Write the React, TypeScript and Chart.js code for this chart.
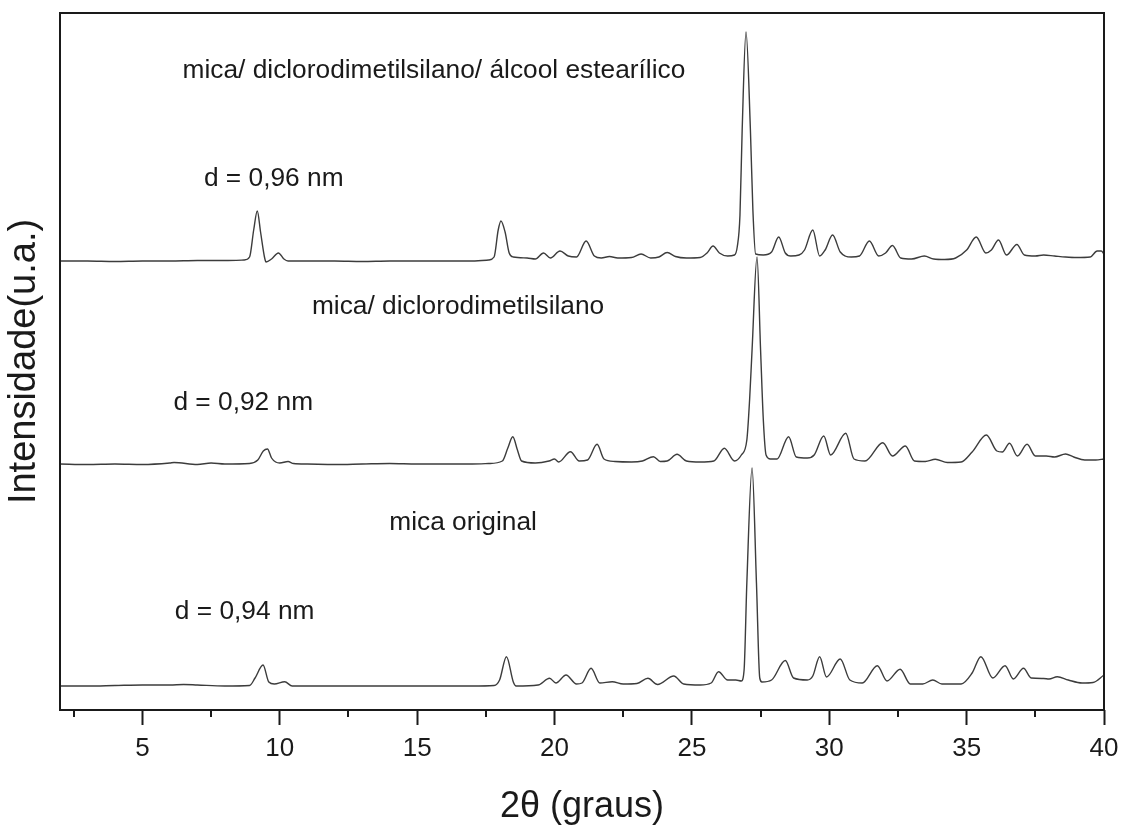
import { useEffect, useRef } from "react";
import { Chart, registerables } from "chart.js";

Chart.register(...registerables);

// 2θ (graus) and intensity (u.a., traces already stacked with their offsets)
const topTheta = [
  2.0, 3.0, 4.0, 5.0, 6.0, 7.0, 8.0, 8.7, 8.9, 9.05, 9.18, 9.3, 9.45, 9.5, 9.7, 9.95, 10.15, 10.3, 11, 12, 13, 14, 15, 16, 17,
  17.6, 17.8, 17.95, 18.05, 18.2, 18.35, 18.5, 19.0, 19.3, 19.6, 19.85, 20.2, 20.5, 20.8, 21.15, 21.45, 21.7, 22.0, 22.3,
  22.8, 23.15, 23.5, 23.8, 24.1, 24.4, 24.8, 25.3, 25.55, 25.77, 26.0, 26.3, 26.55, 26.65, 26.75, 26.83, 26.97, 27.13, 27.22,
  27.32, 27.6, 27.9, 28.16, 28.4, 28.6, 28.9, 29.1, 29.4, 29.65, 29.85, 30.12, 30.4, 30.8, 31.1, 31.46, 31.8, 32.05, 32.3,
  32.6, 33.0, 33.46, 33.8, 34.2, 34.6, 35.0, 35.35, 35.7, 35.9, 36.16, 36.45, 36.83, 37.1, 37.5, 37.8, 38.2, 38.6, 39.0,
  39.5, 39.75, 39.9, 40.0,
];
const topIntensity = [
  449, 449, 448.5, 449, 449, 449.5, 449.5, 450, 453, 480, 499, 478, 452, 448, 451, 457, 451, 449, 449, 449, 448.5, 449, 449, 449, 449,
  450, 453, 480, 489, 478, 457, 453, 452, 451, 457, 452, 459, 454, 453, 469, 454, 452, 453.5, 452,
  452.5, 456, 452, 453, 457.5, 453.5, 452, 452.5, 457, 464, 457, 454, 455, 463, 495, 580, 678, 580, 500,
  456, 455, 458, 473, 457, 454, 455, 460, 480, 454, 460, 475, 458, 453, 454, 469, 454, 457, 464.5,
  452, 451, 454, 451, 450.5, 452, 460, 473, 457, 460, 470, 455, 465.5, 455, 454, 455, 454, 453, 452.5,
  453, 459, 459, 456,
];

const midTheta = [
  2.0, 3.0, 4.0, 5.0, 6.0, 6.15, 7.0, 7.5, 8.0, 8.9, 9.2, 9.4, 9.55, 9.7, 9.85, 10.0, 10.3, 10.5, 11, 12, 13, 14, 15, 16, 17,
  17.6, 18.1, 18.3, 18.48, 18.65, 18.8, 19.3, 19.8, 20.0, 20.15, 20.58, 20.9, 21.2, 21.55, 21.8, 22.2, 22.8, 23.2, 23.6,
  23.85, 24.1, 24.46, 24.8, 25.3, 25.8, 26.18, 26.55, 26.8, 27.0, 27.1, 27.19, 27.37, 27.5, 27.6, 27.7, 27.86, 28.1, 28.52,
  28.8, 29.2, 29.45, 29.8, 30.05, 30.6, 30.9, 31.3, 31.95, 32.3, 32.77, 33.1, 33.5, 33.86, 34.3, 34.8, 35.2, 35.72, 36.1,
  36.3, 36.56, 36.85, 37.2, 37.5, 37.9, 38.2, 38.6, 38.9, 39.3, 39.7, 40.0,
];
const midIntensity = [
  246, 245.5, 246, 245.5, 247, 247.5, 245.5, 247, 246, 246.5, 250, 259, 261, 252, 248, 247, 248.5, 246.5, 246, 245.5, 246, 246.5, 246, 246, 246,
  246.5, 249, 262, 273.3, 260, 249, 247, 249, 251, 248, 258.3, 249, 250, 265.7, 251, 248.5, 248, 249, 253.3,
  248.5, 249, 255.7, 249, 248, 249, 261.7, 249, 255, 270, 310, 360, 453, 360, 290, 255, 251, 251, 273.3,
  253, 252, 255, 274, 255, 276.7, 251, 249, 267.3, 254, 264, 249, 248.5, 250.7, 247.5, 248, 258, 275, 259,
  258, 266.7, 254, 265.7, 254, 254, 253, 256, 253, 250, 250, 251,
];

const botTheta = [
  2.0, 3.0, 4.0, 5.0, 6.0, 6.5, 7.0, 8.0, 8.9, 9.1, 9.39, 9.6, 9.8, 10.18, 10.45, 11, 12, 13, 14, 15, 16, 17,
  17.8, 18.0, 18.25, 18.5, 18.6, 19.4, 19.82, 20.05, 20.42, 20.8, 21.0, 21.33, 21.65, 22.1, 22.5, 23.0, 23.4, 23.75,
  24.34, 24.7, 25.3, 25.7, 25.97, 26.3, 26.6, 26.8, 26.9, 27.0, 27.19, 27.35, 27.47, 27.55, 27.9, 28.4, 28.7, 29.2,
  29.4, 29.65, 29.9, 30.4, 30.75, 31.2, 31.75, 32.1, 32.58, 32.95, 33.4, 33.77, 34.1, 34.8, 35.2, 35.52, 35.95, 36.4,
  36.7, 37.07, 37.35, 37.8, 38.0, 38.3, 38.7, 39.2, 39.6, 40.0,
];
const botIntensity = [
  24, 24, 24.5, 25, 25, 25.5, 25, 24, 24.5, 32, 45, 28, 26, 28.3, 24, 24, 24, 24, 24, 24, 24, 24,
  24.5, 30, 53.3, 28, 24, 25, 31.7, 27, 35, 26, 27, 41.7, 27, 28.3, 26, 26.5, 31.7, 25.5,
  34, 26, 25, 27, 38.3, 30, 30, 29, 40, 127, 242, 127, 32, 28, 30, 49.5, 32, 30,
  34, 53.3, 33, 51, 30, 27, 44.3, 29, 40.7, 26, 26, 30, 26, 26, 37, 53.3, 32, 44.3,
  31, 41.7, 32, 31.5, 31, 33.3, 30, 27, 27.5, 35,
];

const xMajorTicks = [5, 10, 15, 20, 25, 30, 35, 40];
const xMinorTicks = [2.5, 7.5, 12.5, 17.5, 22.5, 27.5, 32.5, 37.5];

const labelTexts = [
  "mica/ diclorodimetilsilano/ álcool estearílico",
  "d = 0,96 nm",
  "mica/ diclorodimetilsilano",
  "d = 0,92 nm",
  "mica original",
  "d = 0,94 nm",
];
// label anchors in data coordinates (2θ, intensity)
const labelTheta = [15.61, 9.78, 16.49, 8.67, 16.67, 8.72];
const labelIntensity = [639, 531, 403, 307, 187, 98];

const FONT = "'Liberation Sans', Arial, 'DejaVu Sans', sans-serif";
const INK = "#1a1a1a";
const LINE = "#3c3c3c";

const framePlugin = {
  id: "framePlugin",
  afterDraw(chart: any) {
    const { ctx, chartArea } = chart;
    const xs = chart.scales.x;
    ctx.save();
    ctx.strokeStyle = INK;
    ctx.lineWidth = 2;
    ctx.strokeRect(chartArea.left, chartArea.top, chartArea.right - chartArea.left, chartArea.bottom - chartArea.top);
    // minor ticks
    ctx.beginPath();
    for (const v of xMinorTicks) {
      const px = Math.round(xs.getPixelForValue(v));
      ctx.moveTo(px, chartArea.bottom);
      ctx.lineTo(px, chartArea.bottom + 7);
    }
    ctx.stroke();
    // annotations
    ctx.fillStyle = INK;
    ctx.font = `26.3px ${FONT}`;
    ctx.textAlign = "center";
    ctx.textBaseline = "middle";
    const ys = chart.scales.y;
    labelTexts.forEach((t, i) => {
      ctx.fillText(t, xs.getPixelForValue(labelTheta[i]), ys.getPixelForValue(labelIntensity[i]));
    });
    ctx.restore();
  },
};

function toPoints(xs: number[], ys: number[]) {
  return xs.map((x, i) => ({ x, y: ys[i] }));
}

export default function App() {
  const ref = useRef<HTMLCanvasElement | null>(null);
  useEffect(() => {
    if (!ref.current) return;
    const mk = (data: any) => ({
      data,
      borderColor: LINE,
      borderWidth: 1.4,
      pointRadius: 0,
      cubicInterpolationMode: "monotone",
      fill: false,
    });
    const chart = new Chart(ref.current, {
      type: "line",
      data: {
        datasets: [
          mk(toPoints(topTheta, topIntensity)),
          mk(toPoints(midTheta, midIntensity)),
          mk(toPoints(botTheta, botIntensity)),
        ],
      },
      options: {
        animation: false,
        responsive: false,
        maintainAspectRatio: false,
        layout: { padding: { left: 0, top: 13, right: 18, bottom: 0 } },
        plugins: { legend: { display: false }, tooltip: { enabled: false } },
        scales: {
          x: {
            type: "linear",
            min: 2,
            max: 40,
            afterBuildTicks: (s: any) => {
              s.ticks = xMajorTicks.map((v) => ({ value: v }));
            },
            afterFit: (s: any) => {
              s.height = 115;
              s.paddingRight = 0;
              s.paddingLeft = 0;
            },
            ticks: {
              color: INK,
              font: { family: FONT, size: 26 },
              padding: 8,
              maxRotation: 0,
              autoSkip: false,
              callback: (v: any) => String(v),
            },
            grid: {
              display: true,
              drawOnChartArea: false,
              drawTicks: true,
              tickLength: 15,
              tickWidth: 2,
              tickColor: INK,
            },
            border: { display: false },
            title: {
              display: true,
              text: "2θ (graus)",
              color: INK,
              font: { family: FONT, size: 36, lineHeight: 1 },
              padding: { top: 0, bottom: 0 },
            },
          },
          y: {
            type: "linear",
            min: 0,
            max: 697,
            afterFit: (s: any) => {
              s.width = 60;
            },
            ticks: { display: false },
            grid: { display: false },
            border: { display: false },
            title: {
              display: true,
              text: "Intensidade(u.a.)",
              color: INK,
              font: { family: FONT, size: 38, lineHeight: 1 },
              padding: { top: 6, bottom: 0 },
            },
          },
        },
      },
      plugins: [framePlugin],
    });
    return () => chart.destroy();
  }, []);

  return (
    <div style={{ position: "absolute", left: 0, top: 0, width: 1122, height: 825, background: "#fff" }}>
      <canvas ref={ref} width={1122} height={825} style={{ display: "block", width: 1122, height: 825 }} />
    </div>
  );
}
